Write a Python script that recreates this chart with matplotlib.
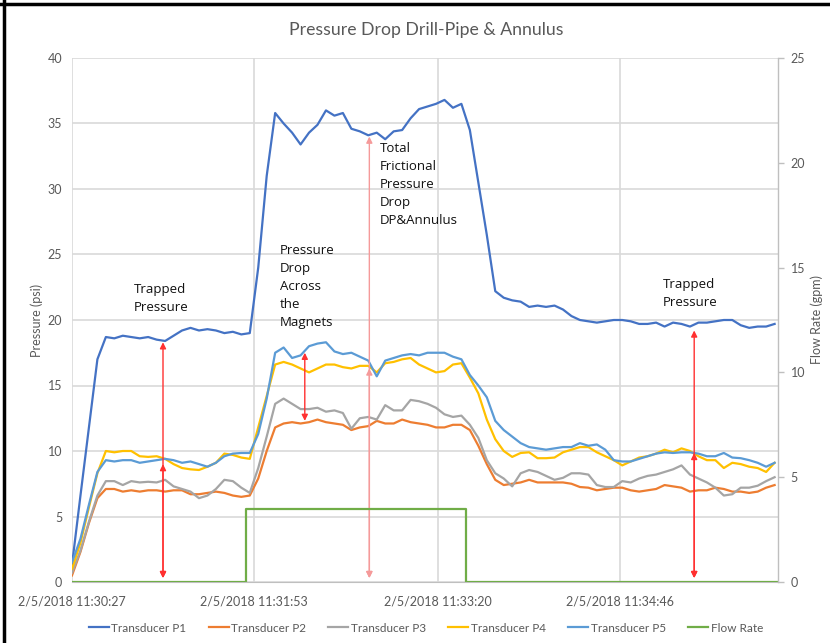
import matplotlib
matplotlib.use("Agg")
import matplotlib.pyplot as plt
from matplotlib.lines import Line2D
import numpy as np
import pandas as pd

# ---------------- data ----------------
start_label = "2/5/2018 11:30:27"
tick_labels = ["2/5/2018 11:30:27", "2/5/2018 11:31:53", "2/5/2018 11:33:20", "2/5/2018 11:34:46"]
end_seconds = 333.6
step_seconds = 4

p1 = [1.3, 6.6, 11.8, 17.0, 18.7, 18.6, 18.8, 18.7, 18.6, 18.7,
      18.5, 18.4, 18.8, 19.2, 19.4, 19.2, 19.3, 19.2, 19.0, 19.1,
      18.9, 19.0, 24.0, 31.0, 35.8, 35.0, 34.3, 33.4, 34.3, 34.9,
      36.0, 35.6, 35.8, 34.6, 34.4, 34.1, 34.3, 33.8, 34.4, 34.5,
      35.4, 36.1, 36.3, 36.5, 36.8, 36.2, 36.5, 34.5, 30.5, 26.5,
      22.2, 21.7, 21.5, 21.4, 21.0, 21.1, 21.0, 21.1, 20.8, 20.3,
      20.0, 19.9, 19.8, 19.9, 20.0, 20.0, 19.9, 19.7, 19.7, 19.8,
      19.5, 19.8, 19.7, 19.5, 19.8, 19.8, 19.9, 20.0, 20.0, 19.6,
      19.4, 19.5, 19.5, 19.7]
p2 = [0.5, 2.3, 4.5, 6.4, 7.1, 7.1, 6.9, 7.0, 6.9, 7.0,
      7.0, 6.9, 7.0, 7.0, 6.7, 6.7, 6.8, 6.9, 6.8, 6.6,
      6.5, 6.6, 7.9, 10.0, 11.8, 12.1, 12.2, 12.1, 12.2, 12.4,
      12.2, 12.1, 12.0, 11.6, 11.8, 11.9, 12.3, 12.1, 12.1, 12.4,
      12.2, 12.1, 12.0, 11.8, 11.8, 12.0, 12.0, 11.6, 10.4, 9.0,
      7.8, 7.4, 7.5, 7.6, 7.8, 7.6, 7.6, 7.6, 7.6, 7.5,
      7.25, 7.2, 7.0, 7.1, 7.2, 7.2, 7.0, 6.9, 7.0, 7.1,
      7.4, 7.3, 7.2, 6.9, 7.0, 7.0, 7.2, 7.1, 6.9, 6.9,
      6.8, 6.9, 7.2, 7.4]
p3 = [0.7, 2.4, 4.6, 6.6, 7.7, 7.7, 7.4, 7.7, 7.6, 7.65,
      7.6, 7.8, 7.3, 7.1, 6.9, 6.4, 6.6, 7.1, 7.8, 7.7,
      7.2, 6.8, 8.7, 11.1, 13.6, 14.0, 13.6, 13.2, 13.2, 13.3,
      13.0, 13.1, 12.9, 11.7, 12.5, 12.6, 12.4, 13.5, 13.1, 13.1,
      13.9, 13.8, 13.6, 13.3, 12.8, 12.6, 12.7, 12.0, 11.0, 9.3,
      8.3, 7.9, 7.3, 8.3, 8.55, 8.4, 8.1, 7.8, 7.95, 8.3,
      8.3, 8.2, 7.4, 7.25, 7.25, 7.7, 7.6, 7.9, 8.1, 8.2,
      8.4, 8.6, 8.9, 8.2, 7.9, 7.6, 7.2, 6.6, 6.7, 7.2,
      7.2, 7.35, 7.7, 8.0]
p4 = [1.0, 3.0, 5.7, 8.3, 10.0, 9.9, 10.0, 10.0, 9.6, 9.55,
      9.6, 9.4, 9.0, 8.7, 8.6, 8.55, 8.8, 9.1, 9.8, 9.7,
      9.5, 9.4, 11.8, 14.2, 16.6, 16.8, 16.6, 16.3, 16.0, 16.3,
      16.6, 16.6, 16.4, 16.3, 16.5, 16.5, 16.0, 16.7, 16.8, 17.0,
      17.1, 16.6, 16.3, 16.0, 16.1, 16.6, 16.7, 15.6, 14.4, 12.4,
      10.9, 10.0, 9.55, 9.85, 9.9, 9.45, 9.45, 9.5, 9.9, 10.1,
      10.3, 10.3, 9.9, 9.6, 9.3, 8.9, 9.2, 9.5, 9.6, 9.8,
      10.1, 9.9, 10.2, 10.0, 9.6, 9.3, 9.3, 8.7, 9.1, 9.0,
      8.8, 8.7, 8.4, 9.1]
p5 = [1.5, 3.3, 5.9, 8.4, 9.3, 9.2, 9.3, 9.3, 9.1, 9.2,
      9.3, 9.4, 9.3, 9.1, 9.2, 9.0, 8.8, 9.1, 9.6, 9.8,
      9.85, 9.85, 11.3, 14.0, 17.5, 17.9, 17.1, 17.3, 18.0, 18.2,
      18.3, 17.6, 17.4, 17.5, 17.2, 16.9, 15.7, 16.9, 17.1, 17.3,
      17.4, 17.3, 17.5, 17.5, 17.5, 17.2, 17.0, 15.8, 15.0, 14.1,
      12.3, 11.6, 11.1, 10.6, 10.3, 10.2, 10.1, 10.2, 10.3, 10.3,
      10.6, 10.4, 10.5, 10.1, 9.3, 9.2, 9.2, 9.4, 9.6, 9.8,
      9.9, 9.85, 9.9, 9.9, 9.8, 9.6, 9.6, 9.85, 9.5, 9.45,
      9.3, 9.1, 8.8, 9.1]

flow_times = [0, 82, 186, 333.6]      # seconds from start (step changes)
flow_rate = [0.0, 3.5, 0.0, 0.0]      # gpm

# annotation arrows (seconds, psi)
arrow_t = [43, 43, 140.5, 140.5, 110, 294, 294]
arrow_lo = [0.3, 0.3, 0.3, 0.3, 12.3, 0.3, 0.3]
arrow_hi = [18.3, 9.0, 34.0, 16.3, 17.5, 19.2, 9.85]
arrow_col = ["#FF3030", "#FF3030", "#F59A9A", "#F59A9A", "#FF3030", "#FF3030", "#FF3030"]

notes = ["Trapped\nPressure", "Pressure\nDrop\nAcross\nthe\nMagnets",
         "Total\nFrictional\nPressure\nDrop\nDP&Annulus", "Trapped\nPressure"]
note_t = [29.3, 98.3, 145.6, 279.3]
note_y = [22.8, 25.8, 33.6, 23.2]

series_names = ["Transducer P1", "Transducer P2", "Transducer P3", "Transducer P4", "Transducer P5"]
series_colors = ["#4472C4", "#ED7D31", "#A5A5A5", "#FFC000", "#5B9BD5"]

# ---------------- plotting ----------------
t0 = pd.Timestamp(start_label)
tick_pos = [(pd.Timestamp(s) - t0).total_seconds() for s in tick_labels]
t = np.arange(len(p1)) * step_seconds

W, H = 830, 643
fig = plt.figure(figsize=(W / 100, H / 100), dpi=100)
ax = fig.add_axes([72 / W, (H - 582) / H, (778 - 72) / W, (582 - 58) / H])
ax2 = ax.twinx()

grid_c = "#D9D9D9"
txt_c = "#595959"
font = "Lato"

handles = []
for vals, name, col in zip([p1, p2, p3, p4, p5], series_names, series_colors):
    h, = ax.plot(t, vals, color=col, lw=1.6, label=name, solid_joinstyle="round", zorder=3)
    handles.append(h)
hf, = ax2.plot(flow_times, flow_rate, drawstyle="steps-post", color="#70AD47", lw=1.6, label="Flow Rate")
handles.append(hf)

ax.set_xlim(0, end_seconds)
ax.set_ylim(0, 40)
ax2.set_ylim(0, 25)
ax.set_yticks(np.arange(0, 41, 5))
ax2.set_yticks(np.arange(0, 26, 5))
ax.set_xticks(tick_pos)
ax.set_xticklabels(tick_labels)

ax.grid(True, color=grid_c, lw=1.2, zorder=0)
ax.set_axisbelow(True)
for a in (ax, ax2):
    for s in a.spines.values():
        s.set_visible(False)
ax2.spines["right"].set_visible(True)
ax2.spines["right"].set_color("#BFBFBF")
ax2.spines["right"].set_linewidth(1.0)
ax.spines["bottom"].set_visible(True)
ax.spines["bottom"].set_color("#BFBFBF")

ax.tick_params(axis="both", length=0, labelsize=9, labelcolor=txt_c, pad=7)
ax.tick_params(axis="x", pad=10)
ax2.tick_params(axis="y", length=4, width=1, color="#BFBFBF", labelsize=9, labelcolor=txt_c, pad=5)
for lab in ax.get_xticklabels() + ax.get_yticklabels() + ax2.get_yticklabels():
    lab.set_fontfamily(font)

ax.set_ylabel("Pressure (psi)", fontsize=9, color=txt_c, family=font, labelpad=3)
ax2.set_ylabel("Flow Rate (gpm)", fontsize=9, color=txt_c, family=font, labelpad=4)

fig.text(0.513, 1 - 30 / H, "Pressure Drop Drill-Pipe & Annulus", ha="center", va="center",
         fontsize=12.7, color=txt_c, family=font)

for xt, lo, hi, c in zip(arrow_t, arrow_lo, arrow_hi, arrow_col):
    ax.annotate("", xy=(xt, hi), xytext=(xt, lo),
                arrowprops=dict(arrowstyle="<|-|>", color=c, lw=1.0, mutation_scale=9,
                                shrinkA=0, shrinkB=0), zorder=5)

for s, xt, yt in zip(notes, note_t, note_y):
    ax.text(xt, yt, s, ha="left", va="top", fontsize=9.5, family="Open Sans",
            color="#111111", linespacing=1.5, zorder=6)

leg = fig.legend(handles=handles, loc="center", bbox_to_anchor=(0.513, (H - 628) / H), ncol=6,
                 frameon=False, handlelength=1.7, handletextpad=0.2, columnspacing=1.9,
                 prop={"family": font, "size": 8.5})
for tx in leg.get_texts():
    tx.set_color(txt_c)

fig.add_artist(Line2D([0, 1], [1 - 3.5 / H, 1 - 3.5 / H], color="black", lw=2.5, transform=fig.transFigure))
fig.add_artist(Line2D([4 / W, 4 / W], [0, 1], color="black", lw=2.5, transform=fig.transFigure))

fig.savefig("out.png", dpi=100)
